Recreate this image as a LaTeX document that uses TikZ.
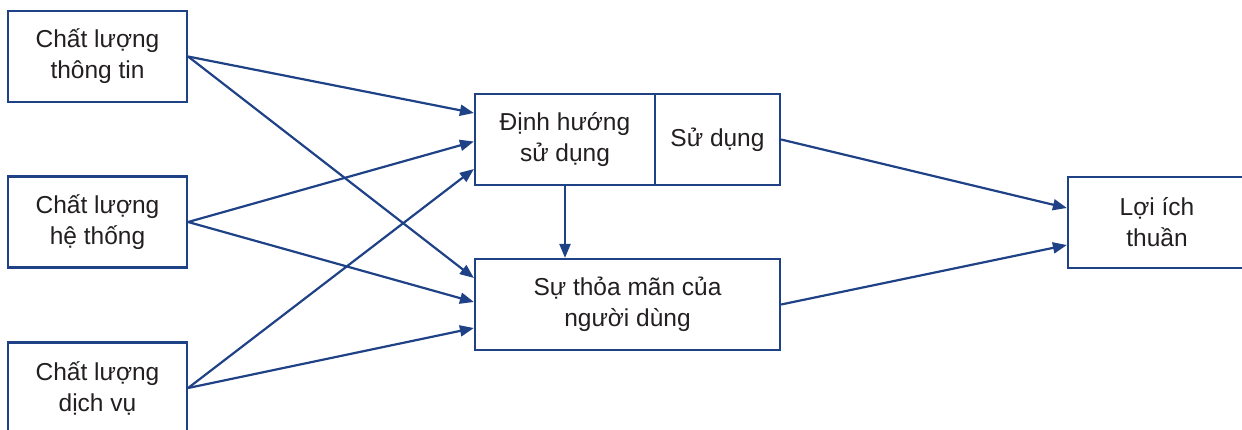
\documentclass[tikz,border=0pt]{standalone}
\usepackage{fontspec}
\setmainfont{Liberation Sans}
\usetikzlibrary{arrows.meta}
\definecolor{frameblue}{RGB}{31,66,135}
\definecolor{txt}{RGB}{35,31,32}
\begin{document}
\begin{tikzpicture}[x=1pt,y=-1pt,
  box/.style={draw=frameblue,line width=2.2pt,inner sep=0pt,align=center,
    font=\fontsize{24.5}{31}\selectfont,text=txt,fill=white},
  link/.style={draw=frameblue,line width=2.2pt,-{Triangle[length=14pt,width=11pt]}}]
\useasboundingbox (0,0) rectangle (1242,429);
\clip (0,0) rectangle (1242,429);
% factor boxes on the left
\node[box,minimum width=179pt,minimum height=91pt] (ci) at (97.5,56.5) {Chất lượng\\thông tin};
\node[box,minimum width=179pt,minimum height=91pt] (cs) at (97.5,222) {Chất lượng\\hệ thống};
\node[box,minimum width=179pt,minimum height=91pt] (cd) at (97.5,388) {Chất lượng\\dịch vụ};
% intention to use / use
\node[box,minimum width=180pt,minimum height=91pt] (dh) at (565,139.5) {Định hướng\\sử dụng};
\node[box,minimum width=125pt,minimum height=91pt] (sd) at (717.5,139.5) {Sử dụng};
% user satisfaction
\node[box,minimum width=305pt,minimum height=91pt] (sm) at (627.5,304.5) {Sự thỏa mãn của\\người dùng};
% net benefits
\node[box,minimum width=178pt,minimum height=91pt] (li) at (1157,222.5) {Lợi ích\\thuần};
% connectors (yshift is measured upwards on the page)
\draw[link] (ci.east) -- ([yshift=26.5pt]dh.west);
\draw[link] (ci.east) -- ([yshift=26.5pt]sm.west);
\draw[link] (cs.east) -- ([yshift=-2pt]dh.west);
\draw[link] (cs.east) -- ([yshift=2.5pt]sm.west);
\draw[link] (cd.east) -- ([yshift=-29.5pt]dh.west);
\draw[link] (cd.east) -- ([yshift=-23.5pt]sm.west);
\draw[link] (dh.south) -- (dh.south |- sm.north);
\draw[link] (sd.east) -- ([yshift=14.5pt]li.west);
\draw[link] (sm.east) -- ([yshift=-22.5pt]li.west);
\end{tikzpicture}
\end{document}
